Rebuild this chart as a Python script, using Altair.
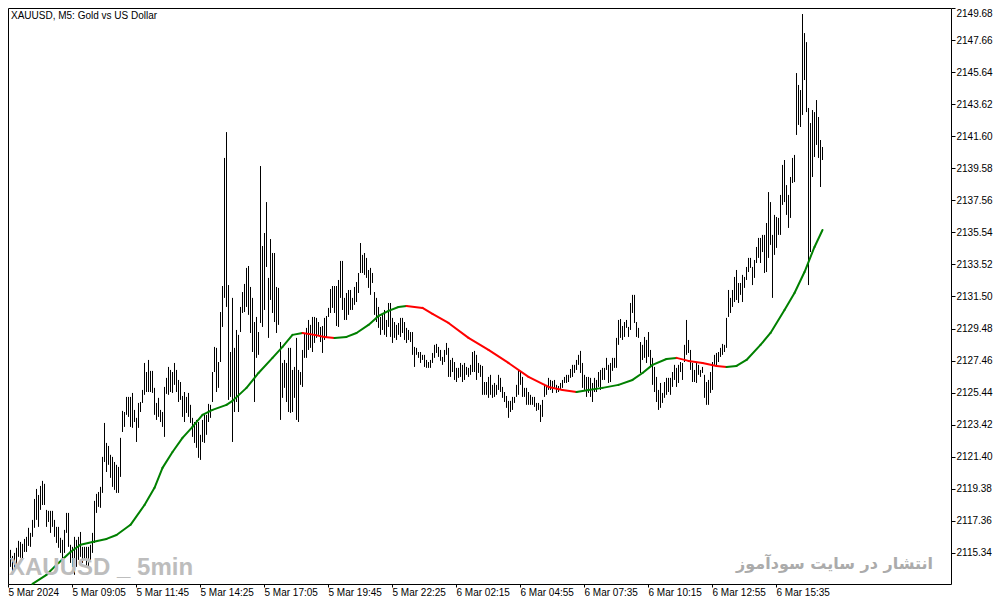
import json
import altair as alt
import numpy as np
import pandas as pd

# ---------------- data ----------------
HIGH = [
    2115.34, 2115.53, 2115.15, 2115.34, 2115.66, 2116.10, 2116.03, 2115.91, 2116.22, 2116.35,
    2116.92, 2116.60, 2117.42, 2118.74, 2119.37, 2118.99, 2119.56, 2119.88, 2119.69, 2118.05,
    2117.99, 2117.99, 2117.99, 2117.42, 2116.98, 2116.98, 2116.29, 2116.16, 2116.79, 2117.86,
    2117.86, 2115.85, 2115.72, 2116.35, 2116.16, 2116.35, 2116.66, 2115.72, 2115.72, 2115.72,
    2115.72, 2115.85, 2116.60, 2118.62, 2119.06, 2119.18, 2119.50, 2121.39, 2123.53, 2122.27,
    2122.08, 2121.52, 2121.39, 2121.07, 2120.89, 2120.76, 2122.59, 2124.29, 2124.22, 2125.17,
    2125.17, 2125.17, 2125.42, 2124.35, 2123.85, 2124.79, 2124.85, 2125.61, 2127.31, 2126.74,
    2127.50, 2126.81, 2126.81, 2125.74, 2124.79, 2125.11, 2124.35, 2124.22, 2125.80, 2126.37,
    2127.06, 2126.87, 2126.74, 2127.31, 2126.87, 2126.24, 2126.11, 2125.23, 2125.48, 2125.17,
    2125.42, 2124.67, 2123.85, 2123.59, 2123.72, 2123.59, 2122.78, 2123.72, 2124.04, 2124.04,
    2124.73, 2124.67, 2126.74, 2128.32, 2128.26, 2127.37, 2130.52, 2132.16, 2140.23, 2141.86,
    2132.22, 2128.00, 2131.41, 2128.26, 2129.39, 2129.08, 2130.84, 2131.78, 2132.29, 2133.30,
    2133.42, 2132.10, 2131.41, 2129.89, 2130.21, 2129.26, 2139.72, 2134.68, 2135.50, 2137.45,
    2132.67, 2135.12, 2134.24, 2134.24, 2132.10, 2132.04, 2128.63, 2127.31, 2127.50, 2127.31,
    2128.26, 2128.26, 2126.87, 2127.06, 2128.89, 2126.87, 2126.74, 2128.13, 2129.20, 2129.52,
    2130.02, 2129.71, 2130.21, 2130.21, 2130.15, 2129.89, 2129.58, 2129.64, 2130.15, 2130.27,
    2130.78, 2131.97, 2132.16, 2132.16, 2132.16, 2132.54, 2133.74, 2133.74, 2131.41, 2131.72,
    2131.91, 2131.91, 2131.41, 2132.10, 2132.41, 2132.98, 2134.87, 2134.12, 2134.24, 2133.93,
    2133.17, 2133.30, 2132.98, 2131.78, 2131.41, 2130.84, 2130.21, 2130.34, 2130.65, 2130.02,
    2131.09, 2131.09, 2130.15, 2129.89, 2129.71, 2129.83, 2130.15, 2130.15, 2129.89, 2129.52,
    2129.39, 2129.26, 2129.26, 2128.32, 2128.26, 2128.00, 2128.00, 2127.82, 2127.82, 2127.50,
    2127.37, 2127.50, 2127.94, 2128.45, 2128.51, 2128.32, 2128.13, 2127.69, 2128.13, 2128.57,
    2128.26, 2127.50, 2127.63, 2127.37, 2127.00, 2127.00, 2127.31, 2127.19, 2127.31, 2127.06,
    2127.00, 2127.19, 2128.00, 2128.07, 2127.82, 2127.31, 2127.19, 2127.12, 2126.11, 2126.11,
    2126.43, 2126.56, 2125.93, 2126.05, 2125.93, 2126.56, 2126.37, 2125.80, 2125.48, 2125.23,
    2124.92, 2124.92, 2125.17, 2125.17, 2125.93, 2126.87, 2126.74, 2126.43, 2125.74, 2125.74,
    2125.48, 2125.30, 2125.17, 2125.17, 2124.79, 2124.79, 2124.67, 2124.98, 2125.99, 2125.93,
    2126.37, 2126.24, 2126.18, 2126.24, 2125.93, 2125.86, 2126.05, 2126.24, 2126.43, 2126.56,
    2126.56, 2126.93, 2127.19, 2127.19, 2127.50, 2127.82, 2128.07, 2127.31, 2126.56, 2126.43,
    2126.43, 2126.37, 2126.05, 2126.37, 2126.24, 2126.74, 2126.87, 2127.00, 2127.00, 2127.63,
    2127.19, 2127.31, 2127.63, 2127.63, 2128.89, 2130.02, 2130.08, 2129.64, 2129.89, 2130.02,
    2129.58, 2131.09, 2131.60, 2131.60, 2129.89, 2129.52, 2128.63, 2128.45, 2128.95, 2128.76,
    2129.26, 2128.13, 2127.63, 2127.06, 2126.43, 2125.61, 2126.05, 2125.42, 2126.11, 2126.37,
    2126.37, 2126.37, 2126.74, 2127.19, 2127.00, 2127.19, 2127.37, 2127.31, 2128.45, 2130.02,
    2128.76, 2128.13, 2127.31, 2126.87, 2127.37, 2127.19, 2126.87, 2127.06, 2126.56, 2126.11,
    2126.24, 2126.74, 2127.37, 2127.82, 2127.94, 2128.00, 2128.26, 2128.51, 2128.45, 2130.15,
    2131.91, 2131.41, 2131.91, 2132.73, 2133.17, 2132.35, 2132.35, 2132.86, 2132.73, 2133.36,
    2133.93, 2133.93, 2133.36, 2133.80, 2134.62, 2135.19, 2135.19, 2135.38, 2135.38, 2136.13,
    2138.08, 2137.45, 2135.38, 2136.64, 2136.51, 2136.45, 2137.90, 2139.79, 2140.10, 2138.52,
    2137.90, 2139.03, 2140.23, 2140.42, 2145.58, 2144.83, 2144.51, 2149.30, 2148.10, 2147.53,
    2143.38, 2142.43, 2143.25, 2143.12, 2143.88, 2142.81, 2141.36, 2140.92,
]

LOW = [
    2113.96, 2114.46, 2114.14, 2114.40, 2114.59, 2115.09, 2115.03, 2114.90, 2115.40, 2115.40,
    2115.78, 2115.72, 2116.35, 2116.92, 2117.42, 2116.98, 2118.05, 2118.36, 2118.36, 2116.98,
    2117.29, 2116.60, 2116.98, 2116.35, 2115.97, 2115.66, 2115.34, 2114.90, 2115.34, 2116.60,
    2115.72, 2114.71, 2114.46, 2113.96, 2114.46, 2114.90, 2115.09, 2114.71, 2114.90, 2114.46,
    2114.40, 2114.90, 2115.34, 2115.97, 2117.86, 2118.24, 2118.18, 2119.12, 2121.07, 2120.44,
    2120.89, 2120.07, 2119.50, 2119.31, 2119.12, 2119.12, 2120.13, 2122.96, 2123.28, 2124.04,
    2123.91, 2123.28, 2123.22, 2123.59, 2122.33, 2123.22, 2124.22, 2124.79, 2125.30, 2125.48,
    2125.48, 2125.48, 2125.42, 2124.04, 2123.72, 2123.91, 2123.59, 2123.28, 2122.65, 2125.36,
    2125.30, 2125.48, 2125.42, 2125.93, 2125.48, 2124.85, 2124.98, 2123.91, 2123.59, 2124.16,
    2123.91, 2123.53, 2122.65, 2122.27, 2121.96, 2121.33, 2121.20, 2122.33, 2122.27, 2122.78,
    2123.59, 2123.85, 2124.85, 2126.74, 2125.48, 2125.74, 2127.37, 2129.58, 2131.41, 2130.84,
    2124.98, 2125.17, 2122.33, 2124.22, 2124.85, 2124.22, 2129.26, 2130.46, 2130.52, 2130.84,
    2130.34, 2129.20, 2128.00, 2124.85, 2127.63, 2127.82, 2129.83, 2129.58, 2130.65, 2133.36,
    2128.89, 2131.28, 2130.46, 2129.89, 2129.20, 2129.71, 2123.72, 2125.11, 2125.74, 2124.85,
    2124.22, 2124.16, 2124.22, 2125.11, 2123.72, 2123.59, 2125.93, 2125.80, 2127.63, 2127.63,
    2128.13, 2128.26, 2128.00, 2128.57, 2128.89, 2129.08, 2128.63, 2127.94, 2128.76, 2128.95,
    2130.21, 2130.46, 2130.78, 2130.46, 2129.64, 2129.58, 2131.41, 2130.65, 2130.02, 2130.02,
    2130.34, 2130.65, 2130.65, 2130.97, 2131.15, 2131.72, 2132.98, 2132.98, 2132.86, 2132.67,
    2132.04, 2131.60, 2132.35, 2130.34, 2129.89, 2129.52, 2129.08, 2129.39, 2129.08, 2128.95,
    2129.58, 2128.95, 2128.57, 2128.89, 2128.76, 2129.08, 2128.95, 2129.20, 2128.76, 2128.57,
    2128.76, 2128.63, 2127.82, 2127.06, 2127.82, 2127.63, 2127.31, 2127.50, 2127.06, 2127.00,
    2127.00, 2127.00, 2127.31, 2127.63, 2127.94, 2127.69, 2127.44, 2127.19, 2127.37, 2127.82,
    2126.43, 2126.43, 2126.74, 2126.24, 2126.11, 2126.37, 2126.43, 2126.11, 2126.24, 2126.56,
    2126.43, 2126.56, 2126.74, 2126.74, 2126.24, 2126.68, 2126.43, 2125.30, 2125.30, 2125.30,
    2125.11, 2125.30, 2125.11, 2125.17, 2125.30, 2125.61, 2125.48, 2125.11, 2124.85, 2124.48,
    2123.85, 2124.22, 2124.35, 2124.79, 2125.17, 2125.30, 2125.93, 2125.17, 2125.17, 2124.67,
    2124.67, 2124.67, 2124.67, 2124.54, 2124.29, 2124.35, 2123.59, 2123.91, 2125.17, 2125.30,
    2125.61, 2125.61, 2125.42, 2125.74, 2125.42, 2125.48, 2125.61, 2125.74, 2126.05, 2126.05,
    2126.11, 2126.37, 2126.43, 2126.68, 2126.87, 2127.19, 2126.68, 2125.74, 2125.61, 2125.17,
    2125.42, 2125.17, 2124.85, 2125.48, 2125.48, 2125.80, 2125.61, 2126.24, 2126.24, 2126.87,
    2126.05, 2126.11, 2126.81, 2127.00, 2127.00, 2128.45, 2128.89, 2128.76, 2128.95, 2129.52,
    2128.95, 2129.39, 2130.46, 2129.83, 2128.95, 2128.89, 2126.68, 2127.50, 2127.63, 2127.31,
    2127.69, 2127.06, 2125.93, 2125.48, 2124.85, 2124.35, 2124.48, 2124.79, 2125.11, 2125.30,
    2125.48, 2125.30, 2125.80, 2126.24, 2125.80, 2126.05, 2126.74, 2126.24, 2127.37, 2127.82,
    2127.94, 2126.87, 2126.11, 2126.11, 2126.05, 2126.56, 2126.43, 2126.68, 2125.11, 2124.67,
    2124.67, 2125.42, 2125.61, 2127.19, 2127.06, 2127.37, 2127.69, 2127.82, 2128.00, 2128.26,
    2130.21, 2130.46, 2130.84, 2131.15, 2131.28, 2131.09, 2131.60, 2131.15, 2132.04, 2132.54,
    2133.04, 2133.30, 2132.22, 2132.67, 2133.61, 2133.93, 2133.61, 2134.30, 2132.98, 2133.04,
    2133.93, 2134.75, 2131.41, 2134.12, 2134.56, 2135.38, 2135.38, 2137.27, 2137.45, 2136.64,
    2135.82, 2136.45, 2138.65, 2138.71, 2141.68, 2142.31, 2142.18, 2142.94, 2145.14, 2143.12,
    2132.22, 2134.30, 2139.03, 2140.29, 2141.05, 2140.23, 2138.40, 2140.10,
]

# moving average read at selected bars
MA_BAR = [12, 19, 25, 31, 36, 42, 49, 54, 61, 68,
          73, 77, 82, 87, 92, 97, 102, 109, 112, 119,
          125, 132, 137, 142, 147, 153, 158, 163, 169, 174,
          180, 185, 190, 195, 199, 207, 212, 220, 230, 240,
          250, 260, 270, 277, 284, 290, 297, 305, 312, 317,
          322, 329, 334, 340, 347, 354, 359, 364, 369, 376,
          381, 388, 393, 398, 403, 407]
MA_VAL = [2113.39, 2113.96, 2114.71, 2115.40, 2115.85, 2116.03, 2116.22, 2116.47, 2117.11, 2118.36,
          2119.44, 2120.70, 2121.70, 2122.59, 2123.28, 2124.04, 2124.35, 2124.67, 2124.92, 2125.74,
          2126.68, 2127.63, 2128.32, 2129.08, 2129.20, 2129.08, 2128.95, 2128.89, 2128.95, 2129.20,
          2129.71, 2130.27, 2130.59, 2130.84, 2130.90, 2130.78, 2130.40, 2129.83, 2128.89, 2128.13,
          2127.31, 2126.43, 2125.80, 2125.61, 2125.48, 2125.61, 2125.74, 2125.93, 2126.24, 2126.68,
          2127.19, 2127.56, 2127.63, 2127.44, 2127.31, 2127.12, 2127.06, 2127.12, 2127.50, 2128.45,
          2129.20, 2130.65, 2131.72, 2133.04, 2134.62, 2135.69]

X_TICK_LABELS = ["5 Mar 2024", "5 Mar 09:05", "5 Mar 11:45", "5 Mar 14:25", "5 Mar 17:05",
                 "5 Mar 19:45", "5 Mar 22:25", "6 Mar 02:15", "6 Mar 04:55", "6 Mar 07:35",
                 "6 Mar 10:15", "6 Mar 12:55", "6 Mar 15:35"]
Y_TICKS = [2115.34, 2117.36, 2119.38, 2121.40, 2123.42, 2125.44, 2127.46, 2129.48, 2131.50,
           2133.52, 2135.54, 2137.56, 2139.58, 2141.60, 2143.62, 2145.64, 2147.66, 2149.68]

TITLE = "XAUUSD, M5:  Gold vs US Dollar"
WATERMARK_EN = "XAUUSD _ 5min"
WATERMARK_FA = "انتشار در سایت سودآموز"

# ---------------- tables ----------------
bars_df = pd.DataFrame({"i": np.arange(len(HIGH)), "high": HIGH, "low": LOW})
seg_df = pd.DataFrame({"i0": MA_BAR[:-1], "v0": MA_VAL[:-1], "i1": MA_BAR[1:], "v1": MA_VAL[1:]})
seg_df["dir"] = np.where(seg_df["v1"] >= seg_df["v0"], "up", "down")

BAR_STEP = 32
# each time label sits just before the first bar of its 32-bar block
x_tick_values = [BAR_STEP * k - 0.25 for k in range(len(X_TICK_LABELS))]
label_expr = json.dumps(X_TICK_LABELS) + "[round((datum.value + 0.25) / 32)]"

FONT = "Liberation Sans"

x_scale = alt.Scale(domain=[-0.25, 471.25], nice=False, zero=False)
y_scale = alt.Scale(domain=[2113.38, 2149.68], nice=False, zero=False)


def x_axis():
    return alt.Axis(values=x_tick_values, labelExpr=label_expr, labelAlign="left",
                    labelBaseline="top", labelPadding=0, tickSize=3, labelOverlap=False,
                    labelFlush=False, title=None, grid=False, domain=False)


def y_axis():
    return alt.Axis(orient="right", values=Y_TICKS, format=".2f", tickSize=4, labelPadding=1,
                    labelOverlap=False, labelFlush=True, title=None, grid=False, domain=False)


bars = alt.Chart(bars_df).mark_rule(color="black", strokeWidth=1).encode(
    x=alt.X("i:Q", scale=x_scale, axis=x_axis()),
    y=alt.Y("high:Q", scale=y_scale, axis=y_axis()),
    y2="low:Q",
)

ma = alt.Chart(seg_df).mark_rule(strokeWidth=2, strokeCap="round").encode(
    x=alt.X("i0:Q", scale=x_scale, axis=x_axis()),
    y=alt.Y("v0:Q", scale=y_scale, axis=y_axis()),
    x2="i1:Q",
    y2="v1:Q",
    color=alt.Color("dir:N", scale=alt.Scale(domain=["up", "down"], range=["#008000", "#ff0000"]),
                    legend=None),
)

title_df = pd.DataFrame({"t": [TITLE]})
title = alt.Chart(title_df).mark_text(align="left", baseline="alphabetic", font=FONT,
                                      fontSize=10, color="black").encode(
    x=alt.value(3), y=alt.value(11), text="t:N")

wm_en_df = pd.DataFrame({"t": [WATERMARK_EN]})
wm_en = alt.Chart(wm_en_df).mark_text(align="left", baseline="alphabetic", font=FONT,
                                      fontSize=24, fontWeight="bold", color="#bdbdbd").encode(
    x=alt.value(1), y=alt.value(567), text="t:N")

wm_fa_df = pd.DataFrame({"t": [WATERMARK_FA]})
wm_fa = alt.Chart(wm_fa_df).mark_text(align="right", baseline="alphabetic", font="DejaVu Sans",
                                      fontSize=16, fontWeight="bold", color="#ababab").encode(
    x=alt.value(925), y=alt.value(561), text="t:N")

chart = alt.layer(bars, ma, wm_en, wm_fa, title).properties(
    width=943,
    height=576,
    autosize=alt.AutoSizeParams(type="none"),
    padding={"left": 0, "top": 0, "right": 43, "bottom": 12},
    background="white",
).configure_view(
    stroke="black", strokeWidth=1
).configure_axis(
    labelFont=FONT, labelFontSize=10, labelColor="black", tickColor="black", tickWidth=1,
    labelOverlap=False
)

chart.save("out.html", embed_options={"renderer": "svg", "actions": False})
